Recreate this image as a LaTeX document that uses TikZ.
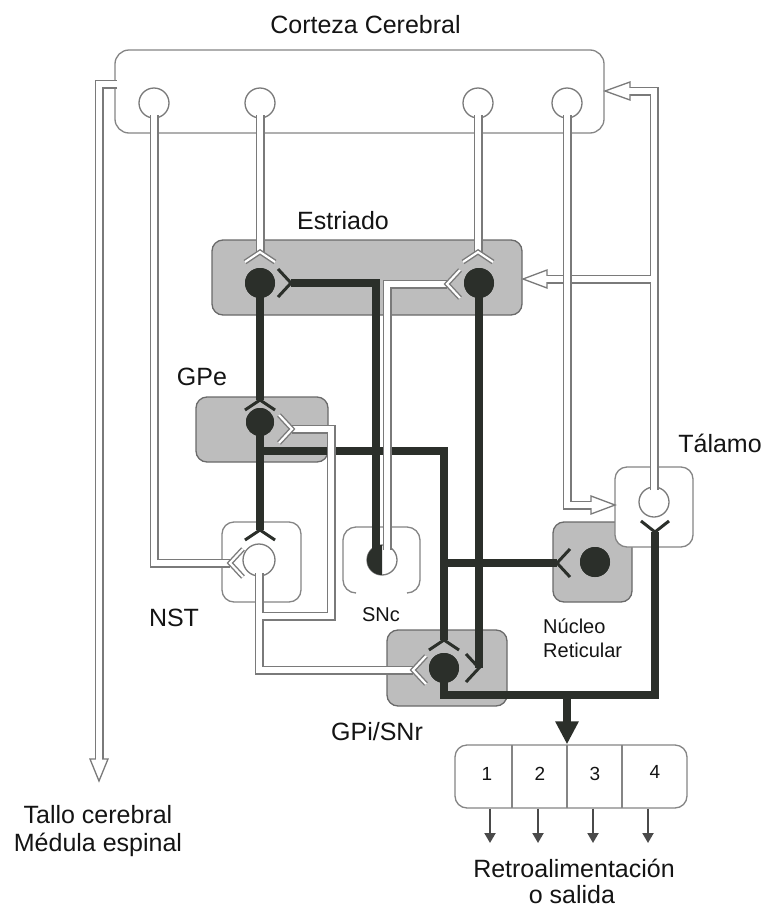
\documentclass[tikz,border=0pt]{standalone}
\usepackage{fontspec}
\setmainfont{Liberation Sans}
\usetikzlibrary{arrows.meta}
\definecolor{dark}{HTML}{2B2F2A}
\definecolor{tgray}{HTML}{7A7A7A}
\definecolor{bgray}{HTML}{858585}
\definecolor{shade}{HTML}{BDBDBD}
\definecolor{txt}{HTML}{141414}
\definecolor{arrgray}{HTML}{4A4A4A}
\tikzset{
 wbox/.style={draw=bgray, line width=1.3pt, fill=white, rounded corners=12pt, inner sep=0pt, rectangle},
 sbox/.style={draw=bgray!80!black, line width=1.3pt, fill=shade, rounded corners=11pt, inner sep=0pt, rectangle},
 wcell/.style={circle, draw=tgray, line width=1.3pt, fill=white, minimum size=30pt, inner sep=0pt},
 dcell/.style={circle, fill=dark, minimum size=30pt, inner sep=0pt},
 tract/.style={draw=white, line width=6.4pt, line join=miter, preaction={draw=tgray, line width=9pt, line join=miter}},
 wfork/.style={draw=white, line width=2.2pt, line join=miter, preaction={draw=tgray, line width=5pt, line join=miter}},
 blk/.style={draw=dark, line width=7.5pt, line join=miter},
 bfork/.style={draw=dark, line width=3pt, line join=miter},
 harrow/.style={draw=tgray, line width=1.3pt, fill=white, line join=miter},
 lbl/.style={font=\fontsize{25pt}{29pt}\selectfont, text=txt, inner sep=0pt, anchor=base},
 slbl/.style={font=\fontsize{20pt}{24pt}\selectfont, text=txt, inner sep=0pt, anchor=base},
 num/.style={font=\fontsize{19pt}{22pt}\selectfont, text=txt, inner sep=0pt},
 outarr/.style={draw=arrgray, line width=2pt, -{Triangle[length=10pt,width=11pt]}},
}
% forks: D = opening downwards, U = opening upwards, R = apex left arms right, L = apex right arms left
\newcommand{\fkD}[2]{\draw[#2] (#1) ++(-15,10) -- (#1) -- ++(15,10);}
\newcommand{\fkU}[2]{\draw[#2] (#1) ++(-14,-11) -- (#1) -- ++(14,-11);}
\newcommand{\fkR}[2]{\draw[#2] (#1) ++(13,-14) -- (#1) -- ++(13,14);}
\newcommand{\fkL}[2]{\draw[#2] (#1) ++(-13,-14) -- (#1) -- ++(-13,14);}
\begin{document}
\begin{tikzpicture}[x=1pt,y=-1pt]
\useasboundingbox (0,0) rectangle (769,908);
\fill[white] (0,0) rectangle (769,908);

% ---------- boxes ----------
\node[wbox, rounded corners=14pt, minimum width=489pt, minimum height=83pt] (cortex) at (359.5,91.5) {};
\node[sbox, minimum width=310pt, minimum height=75pt] (str) at (367,277.5) {};
\node[sbox, minimum width=132pt, minimum height=65pt] (gpe) at (262,429.5) {};
\node[wbox, minimum width=79pt, minimum height=80pt] (nst) at (261.5,562) {};
\coordinate (sncbox) at (381.5,560);
\draw[bgray, line width=1.3pt, rounded corners=13pt] (356,593) -- (343,593) -- (343,527) -- (420,527) -- (420,593) -- (407,593);
\node[sbox, minimum width=120pt, minimum height=76pt] (gpi) at (447,668) {};
\node[sbox, minimum width=79pt, minimum height=80pt] (ret) at (592.5,562) {};
\node[wbox, minimum width=78pt, minimum height=80pt] (tal) at (654,507) {};
\node[wbox, minimum width=232pt, minimum height=63pt] (out) at (571,776.5) {};
\draw[bgray, line width=1.3pt] (512,745) -- (512,808) (567,745) -- (567,808) (622,745) -- (622,808);

% ---------- white cells ----------
\node[wcell] (cx1) at (154,103) {};
\node[wcell] (cx2) at (260,103) {};
\node[wcell] (cx3) at (478,103) {};
\node[wcell] (cx4) at (567,103) {};
\node[wcell, minimum size=32pt] (nstN) at (259,560) {};
\node[wcell] (sncN) at (382,560) {};
\node[wcell] (talN) at (654,502) {};

% ---------- named points ----------
\coordinate (aS1t) at (260,252);
\coordinate (aS2t) at (478,252);
\coordinate (aS1r) at (291,283);
\coordinate (aS2l) at (447,284);
\coordinate (aGPet) at (260,400);
\coordinate (aGPer) at (292,429);
\coordinate (aNSTt) at (260,530);
\coordinate (aNSTl) at (230,563);
\coordinate (aGPit) at (444,640);
\coordinate (aGPil) at (413,670);
\coordinate (aGPir) at (479,668);
\coordinate (aRet) at (557,563);
\coordinate (aTal) at (655,532);
\coordinate (tCx) at (605,91);
\coordinate (tStr) at (523,279);
\coordinate (tTal) at (615,505);
\coordinate (tDown) at (99,781);
\coordinate (jTS) at (654,279);
\coordinate (cL1) at (117,84);
\coordinate (cL2) at (99,84);
\coordinate (jN) at (259,616);
\coordinate (cN1) at (331,616);
\coordinate (cN2) at (331,429);
\coordinate (cN3) at (259,670);
\coordinate (cSn) at (387,284);
\coordinate (jGPe) at (260,451);
\coordinate (jRet) at (444,563);
\coordinate (cG) at (444,695);
\coordinate (jOut) at (567,695);
\coordinate (o1) at (490,843);
\coordinate (o2) at (538,843);
\coordinate (o3) at (593,843);
\coordinate (o4) at (648,843);

% ---------- black (inhibitory) pathways ----------
\node[dcell] (s1) at (260,283) {};
\node[dcell] (s2) at (479,283) {};
\node[dcell, minimum size=28pt] (gpeN) at (260,422) {};
\node[dcell] (gpiN) at (444,668) {};
\node[dcell] (retN) at (595,562) {};
\draw[blk] (s1.center) -- (aGPet);
\draw[blk] (gpeN.center) -- (aNSTt);
\draw[blk] (jGPe) -| (aGPit);
\draw[blk] (jRet) -- (aRet);
\draw[blk] ([xshift=-6pt]sncN.center) |- (aS1r);
\draw[blk] (s2.center) -- (aGPir);
\draw[blk] (gpiN.center) -- (cG) -| (aTal);
\draw[blk, -{Triangle[length=23pt,width=22pt]}] (jOut) -- (out.north -| jOut);

% ---------- white (excitatory) pathways ----------
\draw[tract] ([yshift=-12pt]cx1.center) |- (aNSTl);
\draw[tract] ([yshift=-12pt]cx2.center) -- (aS1t);
\draw[tract] ([yshift=-12pt]cx3.center) -- (aS2t);
\draw[tract] ([yshift=12pt]talN.center) |- ([xshift=25pt]tCx) (jTS) -- ([xshift=24pt]tStr);
\draw[tract] ([yshift=-12pt]cx4.center) |- ([xshift=-24pt]tTal);
\draw[tract] (cL1) -- (cL2) -- ([yshift=22pt]tDown);
\draw[tract] ([yshift=-13pt]nstN.center) -- (jN) -- (cN1) -- (cN2) -- (aGPer) (jN) -- (cN3) -- (aGPil);
\draw[tract] ([xshift=5pt,yshift=10pt]sncN.center) -- (cSn) -- (aS2l);

% hollow arrowheads
\draw[harrow] (tCx) -- ++(25,-9) -- ++(0,18) -- cycle;
\draw[white, line width=6.4pt] ([xshift=22pt]tCx) -- ([xshift=28pt]tCx);
\draw[harrow] (tStr) -- ++(24,-9) -- ++(0,18) -- cycle;
\draw[white, line width=6.4pt] ([xshift=21pt]tStr) -- ([xshift=27pt]tStr);
\draw[harrow] (tTal) -- ++(-24,-9) -- ++(0,18) -- cycle;
\draw[white, line width=6.4pt] ([xshift=-21pt]tTal) -- ([xshift=-27pt]tTal);
\draw[harrow] (tDown) -- ++(-9,-22) -- ++(18,0) -- cycle;
\draw[white, line width=6.4pt] ([yshift=19pt]tDown) -- ([yshift=25pt]tDown);

% ---------- synaptic forks ----------
\fkD{aS1t}{wfork}
\fkD{aS2t}{wfork}
\fkL{aGPer}{wfork}
\fkR{aNSTl}{wfork}
\fkR{aGPil}{wfork}
\fkR{aS2l}{wfork}
\fkL{aS1r}{bfork}
\fkD{aGPet}{bfork}
\fkD{aNSTt}{bfork}
\fkD{aGPit}{bfork}
\fkL{aGPir}{bfork}
\fkR{aRet}{bfork}
\fkU{aTal}{bfork}

% ---------- dark cell bodies on top ----------
\node[dcell] at (s1) {};
\node[dcell] at (s2) {};
\node[dcell, minimum size=28pt] at (gpeN) {};
\node[dcell] at (gpiN) {};
\node[dcell] at (retN) {};
\begin{scope}
\clip (360,540) rectangle (382,580);
\fill[dark] (sncN.center) circle[radius=15];
\end{scope}

% ---------- output arrows ----------
\draw[outarr] (out.south -| o1) -- (o1);
\draw[outarr] (out.south -| o2) -- (o2);
\draw[outarr] (out.south -| o3) -- (o3);
\draw[outarr] (out.south -| o4) -- (o4);

% ---------- labels ----------
\node[num] (n1) at (487,774) {1};
\node[num] (n2) at (540,774) {2};
\node[num] (n3) at (595,774) {3};
\node[num] (n4) at (655,772) {4};
\node[lbl] (lCortex) at (365.5,33) {Corteza Cerebral};
\node[lbl] (lStr) at (343,229) {Estriado};
\node[lbl] (lGPe) at (202,385) {GPe};
\node[lbl] (lNST) at (174,626) {NST};
\node[slbl] (lSNc) at (381,621) {SNc};
\node[lbl] (lGPi) at (377,740) {GPi/SNr};
\node[lbl] (lTal) at (720,452) {Tálamo};
\node[slbl, anchor=base west] (lRet1) at (543,633) {Núcleo};
\node[slbl, anchor=base west] (lRet2) at (543,657) {Reticular};
\node[lbl] (lTallo) at (98,823) {Tallo cerebral};
\node[lbl] (lMed) at (98,851) {Médula espinal};
\node[lbl] (lRetro) at (574,877) {Retroalimentación};
\node[lbl] (lSal) at (572,903) {o salida};
\end{tikzpicture}
\end{document}
